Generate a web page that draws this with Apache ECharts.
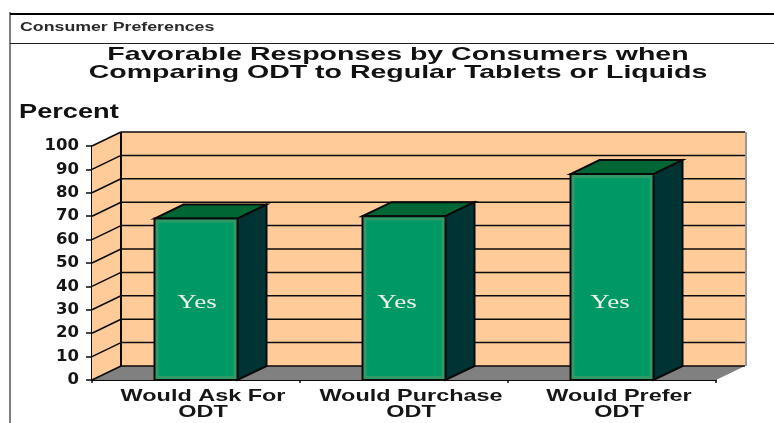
<!DOCTYPE html>
<html><head><meta charset="utf-8">
<style>html,body{margin:0;padding:0;background:#fff}#c{width:774px;height:423px}</style>
<script src="https://cdn.jsdelivr.net/npm/echarts@6/dist/echarts.min.js"></script>
</head><body><div id="c"></div>
<script>
const categories = ['Would Ask For\nODT', 'Would Purchase\nODT', 'Would Prefer\nODT'];
const values = [69, 70, 88];
const insideLabels = ['Yes', 'Yes', 'Yes'];
const yTicks = [0,10,20,30,40,50,60,70,80,90,100];
const headerText = 'Consumer Preferences';
const titleLines = ['Favorable Responses by Consumers when', 'Comparing ODT to Regular Tablets or Liquids'];
const yAxisName = 'Percent';

const DX = 29, DY = 14, BAR_W = 83, INSIDE_VALUE = 33;
const YES_SHIFT = [1, -7, -2];
const sans = '"Liberation Sans", Arial, sans-serif';
const INK = '#0a0a0a';

function poly(points, fill, stroke, lw) {
  return {type:'polygon', shape:{points}, style:{fill, stroke: stroke||null, lineWidth: lw||0}};
}
function seg(x1,y1,x2,y2,w,color){
  return {type:'line', shape:{x1,y1,x2,y2}, style:{stroke:color||INK, lineWidth:w||1.5}};
}

const chart = echarts.init(document.getElementById('c'));
chart.setOption({
  animation:false,
  backgroundColor:'#fff',
  grid:{left:92, right:58, top:146, bottom:43, containLabel:false},
  xAxis:{type:'category', data:categories, boundaryGap:true,
    axisLine:{lineStyle:{color:INK,width:2}},
    axisTick:{show:true, alignWithLabel:false, length:3, lineStyle:{color:INK,width:1.5}},
    axisLabel:{show:false}, splitLine:{show:false}},
  yAxis:{type:'value', min:0, max:100, interval:10,
    axisLine:{show:true,lineStyle:{color:INK,width:2}},
    axisTick:{show:true,length:6,lineStyle:{color:INK,width:1.5}},
    axisLabel:{margin:13,color:'#161616',fontFamily:'"DejaVu Sans"',fontWeight:'bold',fontSize:16.5},
    splitLine:{show:false}},
  graphic:[
    {type:'rect',shape:{x:9,y:12,width:2,height:411},style:{fill:'#808080'},silent:true},
    {type:'rect',shape:{x:10,y:13,width:764,height:2},style:{fill:'#000'},silent:true},
    {type:'rect',shape:{x:10,y:43,width:764,height:1},style:{fill:'#222'},silent:true},
    {type:'text',x:20,y:28,scaleX:1.42,style:{text:headerText,fill:'#2a2a2a',font:'bold 12.5px '+sans,align:'left',verticalAlign:'middle'}},
    {type:'text',x:398,y:55,scaleX:1.5,style:{text:titleLines[0],fill:'#111',font:'bold 19px '+sans,align:'center',verticalAlign:'middle'}},
    {type:'text',x:398,y:73,scaleX:1.5,style:{text:titleLines[1],fill:'#111',font:'bold 19px '+sans,align:'center',verticalAlign:'middle'}},
    {type:'text',x:19,y:112,scaleX:1.36,style:{text:yAxisName,fill:'#111',font:'bold 20px '+sans,align:'left',verticalAlign:'middle'}}
  ],
  series:[
    { // walls and floor
      type:'custom', coordinateSystem:'cartesian2d', z:1, silent:true,
      data:[[0,0]],
      renderItem(params, api){
        const band = api.size([1,0])[0];
        const o = api.coord([0,0]); const t = api.coord([0,100]);
        const l = o[0]-band/2, r = l+band*categories.length, b=o[1], u=t[1];
        return {type:'group',children:[
          poly([[l,b],[l+DX,b-DY],[l+DX,u-DY],[l,u]],'#FFCC99'),
          poly([[l+DX,b-DY],[r+DX,b-DY],[r+DX,u-DY],[l+DX,u-DY]],'#FFCC99'),
          poly([[l,b],[r,b],[r+DX,b-DY],[l+DX,b-DY]],'#808080'),
          seg(r+DX+1,u-DY,r+DX+1,b-DY,2,'#999'),
          seg(l+DX,u-DY,l+DX,b-DY,2)
        ]};
      }
    },
    { // gridlines on the wall
      type:'custom', coordinateSystem:'cartesian2d', z:1.5, silent:true,
      data:yTicks.map(v=>[0,v]),
      encode:{x:0,y:1},
      renderItem(params, api){
        const band = api.size([1,0])[0];
        const p = api.coord([0,api.value(1)]);
        const l = p[0]-band/2, r = l+band*categories.length, y=p[1];
        return {type:'group',children:[
          seg(l,y,l+DX,y-DY,1.5),
          seg(l+DX,y-DY,r+DX,y-DY,1.5)
        ]};
      }
    },
    { // 3D bars
      type:'custom', coordinateSystem:'cartesian2d', z:3, silent:true,
      data:values.map((v,i)=>[i,v]),
      encode:{x:0,y:1},
      renderItem(params, api){
        const top = api.coord([api.value(0),api.value(1)]);
        const bot = api.coord([api.value(0),0]);
        const x0 = top[0]-BAR_W/2, x1 = top[0]+BAR_W/2, yt=top[1], yb=bot[1];
        return {type:'group',children:[
          poly([[x0,yt],[x0+DX,yt-DY],[x1+DX,yt-DY],[x1,yt]],'#006633',INK,2),
          poly([[x1,yt],[x1+DX,yt-DY],[x1+DX,yb-DY],[x1,yb]],'#003333',INK,2),
          poly([[x0,yt],[x1,yt],[x1,yb],[x0,yb]],'#2f9a68',INK,2),
          {type:'rect',shape:{x:x0+4,y:yt+4,width:BAR_W-8,height:yb-yt-8},style:{fill:'#009966'}}
        ]};
      }
    },
    { // in-bar labels
      type:'custom', coordinateSystem:'cartesian2d', z:4, silent:true,
      data:insideLabels.map((s,i)=>[i,INSIDE_VALUE,s]),
      encode:{x:0,y:1},
      renderItem(params, api){
        const p = api.coord([api.value(0),api.value(1)]);
        return {type:'text',x:p[0]+YES_SHIFT[params.dataIndex],y:p[1],scaleX:1.5,style:{
          text:insideLabels[params.dataIndex],fill:'#eef5ea',
          font:'18px "Liberation Serif", serif',align:'center',verticalAlign:'middle'}};
      }
    },
    { // category labels
      type:'custom', coordinateSystem:'cartesian2d', z:4, silent:true,
      data:categories.map((s,i)=>[i,0]),
      encode:{x:0,y:1},
      renderItem(params, api){
        const p = api.coord([api.value(0),0]);
        return {type:'text',x:p[0]+7,y:p[1]+24,scaleX:1.42,style:{
          text:categories[params.dataIndex],fill:'#161616',
          font:'bold 16.5px '+sans,lineHeight:16,align:'center',verticalAlign:'middle'}};
      }
    }
  ]
});
</script></body></html>
